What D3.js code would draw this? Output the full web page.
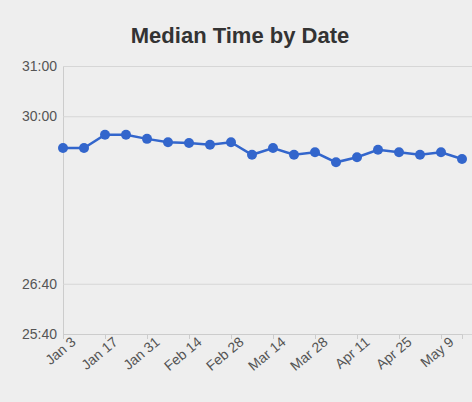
<!DOCTYPE html><html><head><meta charset="utf-8">
<script src="https://cdn.jsdelivr.net/npm/d3@7"></script>
<style>body{margin:0;background:#eeeeee;}svg{display:block;font-family:"Liberation Sans",Arial,sans-serif;}</style>
</head><body><svg id="c" width="472" height="402"></svg>
<script>
const dates=["Jan 3","Jan 10","Jan 17","Jan 24","Jan 31","Feb 7","Feb 14","Feb 21","Feb 28","Mar 7","Mar 14","Mar 21","Mar 28","Apr 4","Apr 11","Apr 18","Apr 25","May 2","May 9","May 16"];
const seconds=[1762,1762,1778,1778,1773,1769,1768,1766,1769,1754,1762,1754,1757,1745,1751,1760,1757,1754,1757,1749];
const yTicks=[1540,1600,1800,1860];
const xLabels=["Jan 3","Jan 17","Jan 31","Feb 14","Feb 28","Mar 14","Mar 28","Apr 11","Apr 25","May 9"];
const svg=d3.select("#c");
const x=d3.scalePoint().domain(dates).range([63,462]);
const y=d3.scaleLinear().domain([1540,1860]).range([334,66]);
const fmt=s=>Math.floor(s/60)+":"+String(s%60).padStart(2,"0");
svg.append("text").attr("x",240).attr("y",43).attr("text-anchor","middle").attr("font-size",22).attr("font-weight","bold").attr("fill","#333").text("Median Time by Date");
const ga=svg.append("g").attr("transform","translate(63,0)").call(d3.axisLeft(y).tickValues(yTicks).tickFormat(fmt).tickSize(-409).tickPadding(6));
ga.select(".domain").attr("stroke","#ccc");
ga.selectAll(".tick line").attr("stroke","#d6d6d6");
ga.selectAll("text").attr("font-size",14).attr("fill","#555");
const gx=svg.append("g").attr("transform","translate(0,334)").call(d3.axisBottom(x).tickValues(xLabels).tickSize(5));
gx.select(".domain").attr("stroke","#ccc");
gx.selectAll(".tick line").attr("stroke","#ccc");
gx.selectAll("text").attr("font-size",14).attr("fill","#555").attr("text-anchor","end").attr("x",4).attr("y",6).attr("dy","0.7em").attr("transform","rotate(-40)");
svg.append("path").datum(seconds).attr("fill","none").attr("stroke","#3366cc").attr("stroke-width",2.5)
 .attr("d",d3.line().x((d,i)=>x(dates[i])).y(d=>y(d)));
svg.selectAll("circle").data(seconds).join("circle").attr("cx",(d,i)=>x(dates[i])).attr("cy",d=>y(d)).attr("r",5).attr("fill","#3366cc");
</script></body></html>
